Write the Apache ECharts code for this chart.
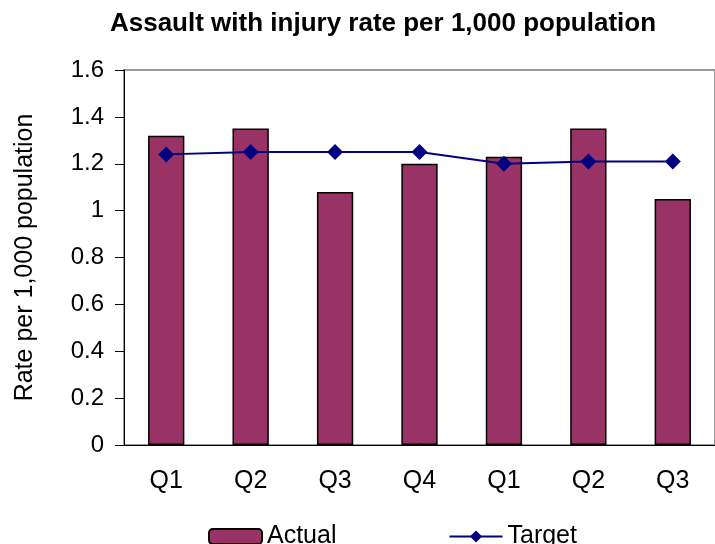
<!DOCTYPE html>
<html>
<head>
<meta charset="utf-8">
<script src="https://cdn.jsdelivr.net/npm/echarts@6/dist/echarts.min.js"></script>
<style>
  html, body { margin: 0; padding: 0; background: #fff; }
  #chart { width: 715px; height: 544px; }
</style>
</head>
<body>
<div id="chart"></div>
<script>
// quarters, two financial years
const quarters = ['Q1', 'Q2', 'Q3', 'Q4', 'Q1', 'Q2', 'Q3']
const actual = [1.32, 1.35, 1.08, 1.20, 1.23, 1.35, 1.05]
const target = [1.24, 1.25, 1.25, 1.25, 1.20, 1.21, 1.21]
const yTicks = { min: 0, max: 1.6, interval: 0.2 }

const font = 'Liberation Sans, Arial, sans-serif'

const chart = echarts.init(document.getElementById('chart'))
chart.setOption({
  animation: false,
  title: {
    text: 'Assault with injury rate per 1,000 population',
    left: 378,
    textAlign: 'center',
    top: 6,
    textStyle: { fontFamily: font, fontSize: 26, fontWeight: 'bold', color: '#000' }
  },
  legend: {
    bottom: -10,
    left: 203,
    itemGap: 112,
    itemWidth: 53,
    itemHeight: 15,
    textStyle: { fontFamily: font, fontSize: 25, color: '#000' },
    data: [
      { name: 'Actual' },
      { name: 'Target' }
    ]
  },
  grid: {
    left: 124,
    right: -9,
    top: 70,
    bottom: 99,
    show: true,
    borderColor: '#999',
    borderWidth: 2
  },
  xAxis: {
    type: 'category',
    data: quarters,
    axisLine: { lineStyle: { color: '#000', width: 1 } },
    axisTick: { length: 9, lineStyle: { color: '#000' } },
    axisLabel: { margin: 24, fontFamily: font, fontSize: 25, color: '#000' }
  },
  yAxis: {
    type: 'value',
    min: yTicks.min,
    max: yTicks.max,
    interval: yTicks.interval,
    name: 'Rate per 1,000 population',
    nameLocation: 'middle',
    nameGap: 86,
    nameTextStyle: { fontFamily: font, fontSize: 25, color: '#000' },
    axisLine: { show: true, lineStyle: { color: '#000', width: 1 } },
    axisTick: { show: true, length: 9, lineStyle: { color: '#000' } },
    splitLine: { show: false },
    axisLabel: {
      margin: 20,
      fontFamily: font,
      fontSize: 24,
      color: '#000',
      formatter: v => String(Math.round(v * 10) / 10)
    }
  },
  series: [
    {
      name: 'Actual',
      type: 'bar',
      data: actual,
      barWidth: '43%',
      itemStyle: { color: '#993366', borderColor: '#000', borderWidth: 1.5 }
    },
    {
      name: 'Target',
      type: 'line',
      data: target,
      symbol: 'diamond',
      symbolSize: 16,
      lineStyle: { color: '#000080', width: 2 },
      itemStyle: { color: '#000080' }
    }
  ]
})
</script>
</body>
</html>
